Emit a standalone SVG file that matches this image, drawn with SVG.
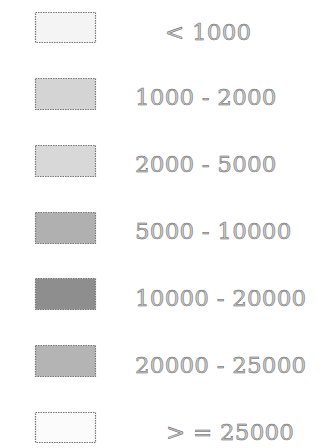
<svg xmlns="http://www.w3.org/2000/svg" width="334" height="448" viewBox="0 0 334 448">
<style>
.sw{stroke:#777;stroke-width:1.2;stroke-dasharray:1.5 1}
.lb{font-family:"DejaVu Serif",serif;font-size:23px;letter-spacing:0.2px;fill:#c8c8c8;stroke:#666;stroke-width:0.5}
</style>
<rect width="334" height="448" fill="#fff"/>
<g id="n1"><rect class="sw" x="35.5" y="12.5" width="60" height="30" fill="#f4f4f4"/><text class="lb" x="165" y="40">&lt; 1000</text></g>
<g id="n2"><rect class="sw" x="35.5" y="78.5" width="60" height="31" fill="#d4d4d4"/><text class="lb" x="135" y="105">1000 - 2000</text></g>
<g id="n3"><rect class="sw" x="35.5" y="145.5" width="60" height="31" fill="#d8d8d8"/><text class="lb" x="135" y="172">2000 - 5000</text></g>
<g id="n4"><rect class="sw" x="35.5" y="212.5" width="60" height="31" fill="#b0b0b0"/><text class="lb" x="135" y="239">5000 - 10000</text></g>
<g id="n5"><rect class="sw" x="35.5" y="278.5" width="60" height="31" fill="#8e8e8e"/><text class="lb" x="135" y="306">10000 - 20000</text></g>
<g id="n6"><rect class="sw" x="35.5" y="345.5" width="60" height="31" fill="#b4b4b4"/><text class="lb" x="135" y="373">20000 - 25000</text></g>
<g id="n7"><rect class="sw" x="35.5" y="412.5" width="60" height="30" fill="#fbfbfb"/><text class="lb" x="166" y="440">&gt; = 25000</text></g>
<g id="connectors"></g>
</svg>
